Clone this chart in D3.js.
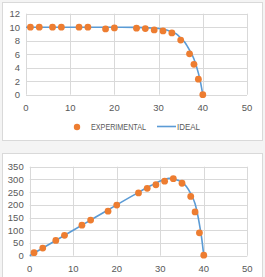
<!DOCTYPE html>
<html>
<head>
<meta charset="utf-8">
<script src="https://cdn.jsdelivr.net/npm/d3@7"></script>
<style>
  body { margin: 0; background: #fff; }
  svg text { font-family: "Liberation Sans", Arial, sans-serif; fill: #595959; }
</style>
</head>
<body>
<div id="chart"></div>
<script>
// measured points (voltage vs current / power)
var expX = [1, 3, 6, 8, 12, 14, 18, 20, 25, 27, 29, 31, 33, 35, 37, 38, 39, 40];
var expCurrent = [10, 10, 10, 10, 10, 10, 9.75, 9.9, 9.85, 9.8, 9.6, 9.45, 9.15, 8.1, 6.05, 4.5, 2.3, 0];
var expPower = [12, 30, 60, 80, 120, 140, 175, 199, 247, 265, 279, 293, 303, 285, 233, 172, 90, 2];

// ideal curve
var idealX = [0, 5, 10, 15, 20, 25, 28, 30, 31, 32, 33, 34, 35, 36, 37, 38, 39, 39.5, 40];
var idealCurrent = [10, 10, 10, 10, 10, 9.97, 9.9, 9.8, 9.7, 9.55, 9.3, 9.0, 8.4, 7.7, 6.6, 5.3, 3.2, 1.8, 0];
var idealPower = [0, 50, 100, 150, 200, 249, 277, 294, 300, 304, 303, 297, 288, 272, 244, 204, 124, 71, 0];

var xTicks = [0, 10, 20, 30, 40, 50];
var currentTicks = [0, 2, 4, 6, 8, 10, 12];
var powerTicks = [0, 50, 100, 150, 200, 250, 300, 350];

var orange = "#ed7d31", blue = "#5b9bd5", grid = "#d9d9d9";

var svg = d3.select("#chart").append("svg")
  .attr("width", 265).attr("height", 277);

svg.append("rect").attr("width", 265).attr("height", 277).attr("fill", "#f4f4f4");

function drawChart(box, plot, yTicks, yMax, expY, idealY, legend) {
  svg.append("rect")
    .attr("x", box.x + 0.5).attr("y", box.y + 0.5)
    .attr("width", box.w).attr("height", box.h)
    .attr("fill", "#fff").attr("stroke", grid);

  var x = d3.scaleLinear().domain([0, 50]).range([plot.left, plot.right]);
  var y = d3.scaleLinear().domain([0, yMax]).range([plot.bottom, plot.top]);

  var g = svg.append("g");

  // gridlines
  g.selectAll(".hg").data(yTicks).enter().append("line")
    .attr("x1", plot.left).attr("x2", plot.right)
    .attr("y1", function(d) { return Math.round(y(d)) + 0.5; })
    .attr("y2", function(d) { return Math.round(y(d)) + 0.5; })
    .attr("stroke", grid).attr("stroke-width", 1);
  g.selectAll(".vg").data(xTicks).enter().append("line")
    .attr("y1", plot.top).attr("y2", plot.bottom)
    .attr("x1", function(d) { return Math.round(x(d)) + 0.5; })
    .attr("x2", function(d) { return Math.round(x(d)) + 0.5; })
    .attr("stroke", grid).attr("stroke-width", 1);

  // tick labels
  g.selectAll(".yl").data(yTicks).enter().append("text")
    .attr("x", plot.left - 6).attr("y", function(d) { return y(d) + 3.5; })
    .attr("text-anchor", "end").attr("font-size", 9.5)
    .text(function(d) { return d; });
  g.selectAll(".xl").data(xTicks).enter().append("text")
    .attr("x", function(d) { return x(d); }).attr("y", plot.bottom + 16)
    .attr("text-anchor", "middle").attr("font-size", 9.5)
    .text(function(d) { return d; });

  var line = d3.line()
    .x(function(d, i) { return x(idealX[i]); })
    .y(function(d) { return y(d); })
    .curve(d3.curveMonotoneX);

  g.append("path").datum(idealY)
    .attr("d", line).attr("fill", "none")
    .attr("stroke", blue).attr("stroke-width", 1.6);

  g.selectAll(".pt").data(expY).enter().append("circle")
    .attr("cx", function(d, i) { return x(expX[i]); })
    .attr("cy", function(d) { return y(d); })
    .attr("r", 3.4).attr("fill", orange);

  if (legend) {
    var lg = svg.append("g");
    lg.append("circle").attr("cx", 77).attr("cy", 127).attr("r", 3.2).attr("fill", orange);
    lg.append("text").attr("x", 91).attr("y", 130).attr("font-size", 8.3)
      .attr("textLength", 55).attr("lengthAdjust", "spacingAndGlyphs").text("EXPERIMENTAL");
    lg.append("line").attr("x1", 157).attr("x2", 176).attr("y1", 126.5).attr("y2", 126.5)
      .attr("stroke", blue).attr("stroke-width", 1.6);
    lg.append("text").attr("x", 177).attr("y", 130).attr("font-size", 8.3)
      .attr("textLength", 23).attr("lengthAdjust", "spacingAndGlyphs").text("IDEAL");
  }
}

drawChart({x: 2, y: 2, w: 260, h: 138},
  {left: 26, right: 247, top: 13.7, bottom: 94.7},
  currentTicks, 12, expCurrent, idealCurrent, true);

drawChart({x: 2, y: 153, w: 260, h: 130},
  {left: 29.7, right: 247.3, top: 166.7, bottom: 255.7},
  powerTicks, 350, expPower, idealPower, false);
</script>
</body>
</html>
